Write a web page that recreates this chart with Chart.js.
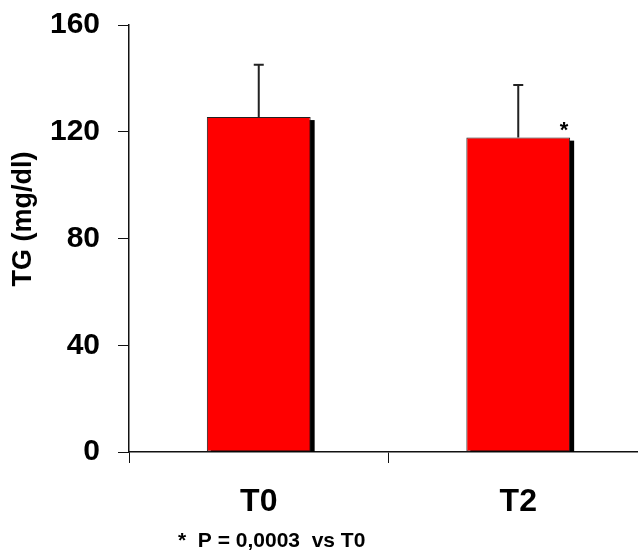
<!DOCTYPE html>
<html>
<head>
<meta charset="utf-8">
<script src="https://cdn.jsdelivr.net/npm/chart.js@4/dist/chart.umd.min.js"></script>
<style>
  html, body { margin: 0; padding: 0; background: #fff; overflow: hidden; }
  #wrap { width: 660px; height: 555px; }
</style>
</head>
<body>
<div id="wrap"><canvas id="myChart"></canvas></div>
<script>
// chart data
const labels = ["T0", "T2"];
const means = [125.5, 117.8];
const sdUp = [19.6, 19.7];
const marks = ["", "*"];
const yTicks = [0, 40, 80, 120, 160];
const yTitle = "TG (mg/dl)";
const note = "*  P = 0,0003  vs T0";

const FONT = "Arial, 'Liberation Sans', sans-serif";

// black drop shadow behind each bar
const shadowPlugin = {
    id: "shadow",
    beforeDatasetsDraw(chart) {
        const ctx = chart.ctx;
        const area = chart.chartArea;
        const meta = chart.getDatasetMeta(0);
        ctx.save();
        ctx.beginPath();
        ctx.rect(area.left, area.top, area.right - area.left, area.bottom - area.top);
        ctx.clip();
        ctx.fillStyle = "#000";
        meta.data.forEach(function (bar) {
            const left = bar.x - bar.width / 2;
            ctx.fillRect(left + 4, bar.y + 3, bar.width, bar.base - bar.y);
        });
        ctx.restore();
    }
};

// upper error bars, significance star, axis title and footnote
const extrasPlugin = {
    id: "extras",
    afterDatasetsDraw(chart) {
        const ctx = chart.ctx;
        const y = chart.scales.y;
        const meta = chart.getDatasetMeta(0);
        ctx.save();
        meta.data.forEach(function (bar, i) {
            const top = y.getPixelForValue(means[i] + sdUp[i]);
            ctx.strokeStyle = "#222";
            ctx.lineWidth = 2;
            ctx.beginPath();
            ctx.moveTo(bar.x, bar.y);
            ctx.lineTo(bar.x, top);
            ctx.moveTo(bar.x - 5, top);
            ctx.lineTo(bar.x + 5, top);
            ctx.stroke();
            if (marks[i]) {
                ctx.fillStyle = "#000";
                ctx.font = "bold 22px " + FONT;
                ctx.textAlign = "center";
                ctx.textBaseline = "middle";
                ctx.fillText(marks[i], bar.x + bar.width / 2 - 6, bar.y - 7);
            }
        });
        ctx.fillStyle = "#000";
        ctx.font = "bold 21px " + FONT;
        ctx.textAlign = "left";
        ctx.textBaseline = "middle";
        ctx.fillText(note, 178, 541);

        ctx.translate(24, 219);
        ctx.rotate(-Math.PI / 2);
        ctx.font = "bold 27px " + FONT;
        ctx.textAlign = "center";
        ctx.fillText(yTitle, 0, 0);
        ctx.restore();
    }
};

let ctx = document.getElementById("myChart").getContext("2d");
let myChart = new Chart(ctx, {
    type: "bar",
    data: {
        labels: labels,
        datasets: [{
            label: "TG",
            data: means,
            backgroundColor: "#ff0000",
            borderColor: "#222",
            borderWidth: 1,
            borderSkipped: false,
            categoryPercentage: 1,
            barPercentage: 0.4
        }]
    },
    options: {
        responsive: true,
        maintainAspectRatio: false,
        animation: false,
        events: [],
        layout: { padding: { top: 25, right: 12, left: 0, bottom: 0 } },
        plugins: {
            legend: { display: false },
            tooltip: { enabled: false }
        },
        scales: {
            x: {
                offset: true,
                grid: {
                    offset: true,
                    drawOnChartArea: false,
                    tickLength: 11,
                    color: "#111",
                    lineWidth: 1
                },
                border: { color: "#111", width: 1.5 },
                ticks: {
                    color: "#000",
                    padding: 20,
                    font: { family: FONT, size: 32, weight: "bold" }
                },
                afterFit(scale) {
                    scale.height = 103;
                    scale.paddingLeft = 0;
                    scale.paddingRight = 0;
                }
            },
            y: {
                min: 0,
                max: 160,
                afterBuildTicks(scale) { scale.ticks = yTicks.map(v => ({ value: v })); },
                grid: {
                    drawOnChartArea: false,
                    tickLength: 11,
                    color: "#111",
                    lineWidth: 1
                },
                border: { color: "#111", width: 1.5 },
                ticks: {
                    color: "#000",
                    padding: 18,
                    font: { family: FONT, size: 30, weight: "bold" }
                },
                afterFit(scale) {
                    scale.width = 129;
                    scale.paddingTop = 0;
                    scale.paddingBottom = 0;
                }
            }
        }
    },
    plugins: [shadowPlugin, extrasPlugin]
});
</script>
</body>
</html>
